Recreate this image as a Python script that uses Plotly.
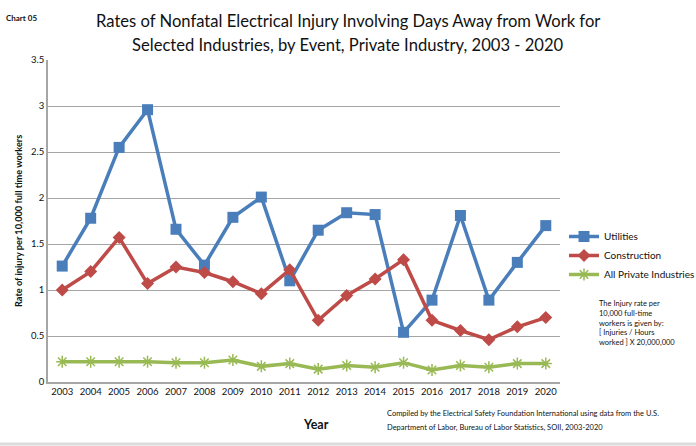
import plotly.graph_objects as go

years = [str(y) for y in range(2003, 2021)]
utilities = [1.26, 1.78, 2.55, 2.96, 1.66, 1.27, 1.79, 2.01, 1.10, 1.65, 1.84, 1.82, 0.54, 0.89, 1.81, 0.89, 1.30, 1.70]
construction = [1.00, 1.20, 1.57, 1.07, 1.25, 1.19, 1.09, 0.96, 1.22, 0.67, 0.94, 1.12, 1.33, 0.67, 0.56, 0.46, 0.60, 0.70]
all_private = [0.22, 0.22, 0.22, 0.22, 0.21, 0.21, 0.24, 0.17, 0.20, 0.14, 0.18, 0.16, 0.21, 0.13, 0.18, 0.16, 0.20, 0.20]
y_ticks = [0, 0.5, 1, 1.5, 2, 2.5, 3, 3.5]

FONT = "Lato"
W, H = 696, 446
L, R, T, B = 48, 136, 60, 64
PW, PH = W - L - R, H - T - B


def px(x):
    return (x - L) / PW


def py(y):
    return (H - B - y) / PH


fig = go.Figure()
fig.add_trace(go.Scatter(x=years, y=utilities, name="Utilities", mode="lines+markers",
                         line=dict(color="#4A7EBB", width=3.5),
                         marker=dict(symbol="square", size=11, color="#4A7EBB")))
fig.add_trace(go.Scatter(x=years, y=construction, name="Construction", mode="lines+markers",
                         line=dict(color="#BE4B48", width=3.5),
                         marker=dict(symbol="diamond", size=10, color="#BE4B48")))
fig.add_trace(go.Scatter(x=years, y=all_private, name="All Private Industries", mode="lines+markers",
                         line=dict(color="#98B954", width=3.5),
                         marker=dict(symbol="asterisk-open", size=10, color="#98B954",
                                     line=dict(color="#98B954", width=1.5))))

fig.update_layout(
    width=W, height=H,
    margin=dict(l=L, r=R, t=T, b=B, autoexpand=False),
    paper_bgcolor="white", plot_bgcolor="white",
    font=dict(family=FONT, color="#111111", size=10),
    showlegend=True,
    legend=dict(x=px(564), y=py(222), xanchor="left", yanchor="top",
                font=dict(family=FONT, size=10, color="#111111"),
                bgcolor="rgba(0,0,0,0)", tracegroupgap=0, itemwidth=30),
    xaxis=dict(type="category", range=[-0.5, len(years) - 0.5], autorange=False,
               showgrid=False, showline=True, linecolor="#A6A6A6",
               linewidth=1.5, ticks="", tickangle=0,
               tickfont=dict(size=9.5, family=FONT, color="#111111"),
               zeroline=False),
    yaxis=dict(range=[0, 3.5], tickvals=y_ticks, ticktext=[f"{v:g}" for v in y_ticks],
               showgrid=True, gridcolor="#A6A6A6", gridwidth=1, showline=True,
               linecolor="#A6A6A6", linewidth=1.5, ticks="", zeroline=False,
               tickfont=dict(size=9.5, family=FONT, color="#111111")),
)

annos = [
    dict(text="Rates of Nonfatal Electrical Injury Involving Days Away from Work for",
         x=px(348), y=py(21), xanchor="center", yanchor="middle", font=dict(size=16.6)),
    dict(text="Selected Industries, by Event, Private Industry, 2003 - 2020",
         x=px(348), y=py(45), xanchor="center", yanchor="middle", font=dict(size=16.6)),
    dict(text="<b>Chart 05</b>", x=px(4), y=py(18), xanchor="left", yanchor="middle",
         font=dict(size=8)),
    dict(text="<b>Rate of injury per 10,000 full time workers</b>", x=px(18), y=py(221),
         xanchor="center", yanchor="middle", textangle=-90, font=dict(size=9.2)),
    dict(text="<b>Year</b>", x=px(316), y=py(424), xanchor="center", yanchor="middle",
         font=dict(size=12.5)),
    dict(text="Compiled by the Electrical Safety Foundation International using data from the U.S.",
         x=px(385), y=py(413), xanchor="left", yanchor="middle", font=dict(size=7.5)),
    dict(text="Department of Labor, Bureau of Labor Statistics, SOII, 2003-2020",
         x=px(385), y=py(427), xanchor="left", yanchor="middle", font=dict(size=7.5)),
    dict(text="The Injury rate per<br>10,000 full-time<br>workers is given by:<br>[ Injuries / Hours<br>worked ] X 20,000,000",
         x=px(597), y=py(297), xanchor="left", yanchor="top", align="left",
         font=dict(size=7.5)),
]
for a in annos:
    a.setdefault("font", {})
    a["font"].setdefault("family", FONT)
    a["font"].setdefault("color", "#111111")
    fig.add_annotation(xref="paper", yref="paper", showarrow=False, **a)

fig.add_shape(type="line", xref="paper", yref="paper", x0=px(0), x1=px(W), y0=py(444), y1=py(444),
              line=dict(color="#DCDCDC", width=3))

fig.write_html("out.html")
